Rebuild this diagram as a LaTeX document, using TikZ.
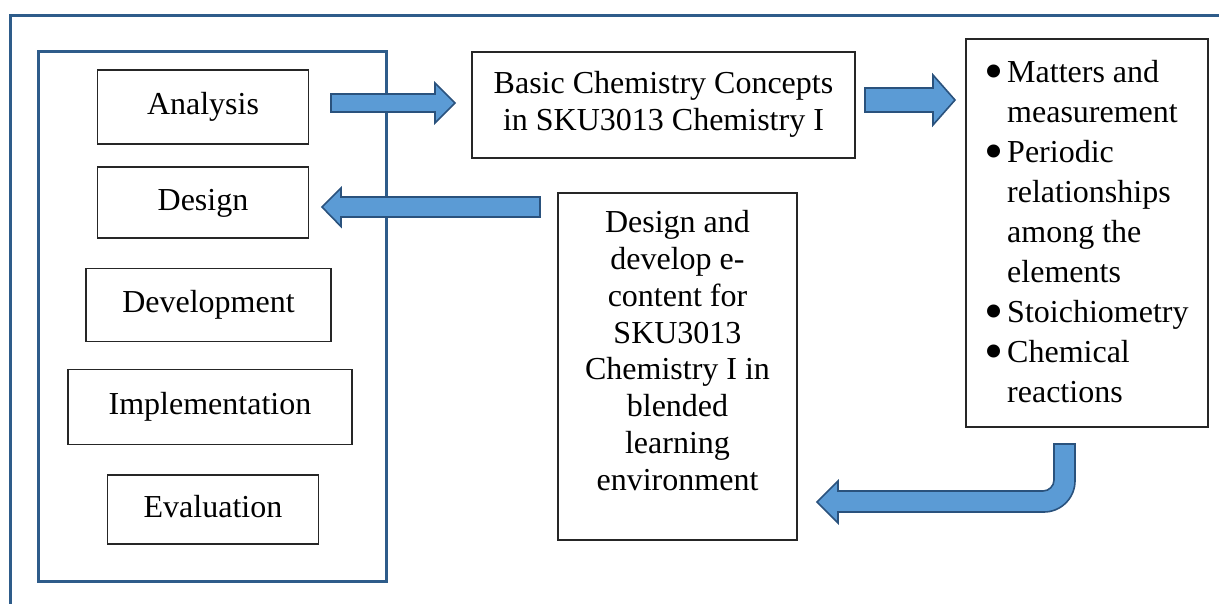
\documentclass[tikz,border=0pt]{standalone}
\usepackage{fontspec}
\setmainfont{Liberation Serif}
\definecolor{arrowfill}{HTML}{5B9BD5}
\definecolor{arrowline}{HTML}{2A527D}
\definecolor{framecol}{HTML}{2E5C8A}
\newcommand{\mybul}{\makebox[22.5pt][l]{\raisebox{-7pt}{\scalebox{1.7}{\textbullet}}}}
\newcommand{\myind}{\hspace*{22.5pt}}
\begin{document}
\begin{tikzpicture}[x=1pt,y=-1pt,
  box/.style={draw=black!85, line width=1.3pt, fill=white, inner sep=0pt},
  lbl/.style={font=\fontsize{32}{37}\selectfont, text height=22pt, text depth=7pt},
  blockarrow/.style={fill=arrowfill, draw=arrowline, line width=1.6pt, line join=miter},
  frameline/.style={draw=framecol, line width=3pt}]
\useasboundingbox (0,0) rectangle (1219,603);
% outer frame (top and left only)
\coordinate (fr1) at (1230,15);
\coordinate (fr2) at (10,15);
\coordinate (fr3) at (10,615);
\draw[frameline] (fr1) -- (fr2) -- (fr3);
% inner frame with the phases
\node[frameline, minimum width=348pt, minimum height=530pt, inner sep=0pt] (phases) at (212,316) {};
\node[box, lbl, minimum width=211pt, minimum height=74pt] (ana) at (203,107) {Analysis};
\node[box, lbl, minimum width=211pt, minimum height=71pt] (des) at (203,202.5) {Design};
\node[box, lbl, minimum width=245pt, minimum height=73pt] (dev) at (208.5,305) {Development};
\node[box, lbl, minimum width=284pt, minimum height=75pt] (imp) at (210,407) {Implementation};
\node[box, lbl, minimum width=211pt, minimum height=69pt] (eva) at (213,509.5) {Evaluation};
% basic concepts
\node[box, minimum width=383pt, minimum height=106pt, font=\fontsize{32}{37}\selectfont] (basic) at (663.5,105)
  {\begin{tabular}{@{}c@{}}Basic Chemistry Concepts\\in SKU3013 Chemistry I\end{tabular}};
% topics list
\node[box, minimum width=242pt, minimum height=388pt] (topics) at (1087,233) {};
\node[anchor=north west, inner sep=0pt, font=\fontsize{32}{40}\selectfont] (topicstext) at (984.5,54)
  {\begin{tabular}{@{}l@{}}
  \mybul Matters and\\
  \myind measurement\\
  \mybul Periodic\\
  \myind relationships\\
  \myind among the\\
  \myind elements\\
  \mybul Stoichiometry\\
  \mybul Chemical\\
  \myind reactions
  \end{tabular}};
% design and develop
\node[box, minimum width=239pt, minimum height=347pt] (dd) at (677.5,366.5) {};
\node[anchor=north, inner sep=0pt, font=\fontsize{32}{36.8}\selectfont] (ddtext) at (677.5,206.7)
  {\begin{tabular}{@{}c@{}}Design and\\develop e-\\content for\\SKU3013\\Chemistry I in\\blended\\learning\\environment\end{tabular}};
% block arrows
\draw[blockarrow] (331,94) -- (435,94) -- (435,83) -- (455,103) -- (435,123) -- (435,112) -- (331,112) -- cycle;
\draw[blockarrow] (865,88) -- (933,88) -- (933,75) -- (955,100) -- (933,125) -- (933,112) -- (865,112) -- cycle;
\draw[blockarrow] (540,197) -- (341,197) -- (341,188) -- (322,207) -- (341,226.5) -- (341,217) -- (540,217) -- cycle;
\draw[blockarrow] (1054,444) -- (1075,444) -- (1075,481)
  .. controls (1075,498) and (1061,512) .. (1044,512)
  -- (838,512) -- (838,523) -- (817,502) -- (838,481) -- (838,491) -- (1043,491)
  .. controls (1049,491) and (1054,486) .. (1054,480) -- cycle;
\end{tikzpicture}
\end{document}
